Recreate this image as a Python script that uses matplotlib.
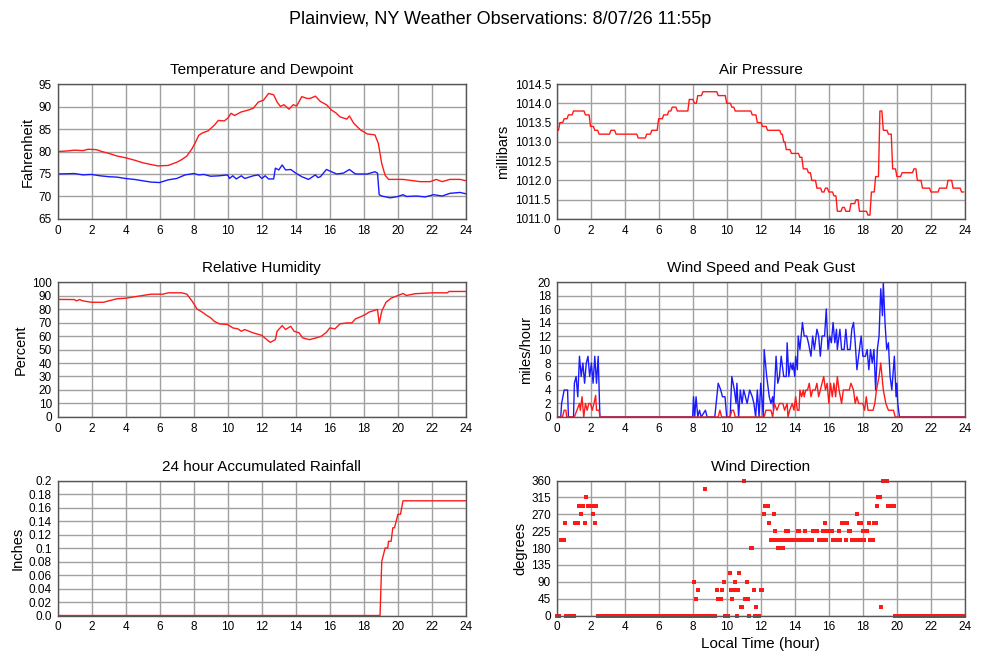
import numpy as np
import matplotlib
matplotlib.use('Agg')
import matplotlib.pyplot as plt

plt.rcParams['font.family'] = ['Liberation Sans', 'DejaVu Sans']

title = 'Plainview, NY Weather Observations: 8/07/26 11:55p'

# temperature / dewpoint (hour, degF)
temp_hr = [0, 0.5, 1, 1.5, 1.8, 2.3, 2.6, 3, 3.5, 4, 4.5, 5, 5.5, 5.9, 6.5,
           7, 7.3, 7.6, 7.9, 8.1, 8.3, 8.5, 8.85, 9.2, 9.45, 9.8, 10.0, 10.2,
           10.4, 10.8, 11.2, 11.5, 11.8, 12.1, 12.4, 12.7, 12.9, 13.1, 13.3,
           13.6, 13.85, 14.05, 14.35, 14.65, 14.85, 15.15, 15.45, 15.8, 16.1,
           16.35, 16.6, 17.0, 17.15, 17.4, 17.8, 18.2, 18.65, 18.85, 19.05,
           19.25, 19.45, 20.3, 21.3, 21.9, 22.25, 22.6, 23.05, 23.65, 24]
temp_f = [80.0, 80.1, 80.3, 80.2, 80.5, 80.4, 80.0, 79.6, 79.0, 78.6, 78.1,
          77.5, 77.1, 76.8, 76.9, 77.6, 78.2, 79.0, 80.6, 82.0, 83.6, 84.1,
          84.6, 85.8, 86.9, 86.8, 87.4, 88.5, 88.0, 88.8, 89.2, 89.6, 91.0,
          91.4, 92.9, 92.6, 91.0, 90.0, 90.4, 89.4, 90.4, 90.1, 92.2, 91.8,
          91.8, 92.3, 91.1, 90.4, 89.2, 88.6, 87.7, 87.2, 87.9, 86.3, 84.8,
          83.9, 83.7, 81.8, 77.3, 74.7, 73.8, 73.8, 73.3, 73.3, 73.8, 73.3,
          73.8, 73.8, 73.5]

dew_hr = [0, 1, 1.5, 2, 2.5, 3, 3.5, 4, 4.5, 5, 5.5, 6, 6.5, 7, 7.5, 8, 8.3,
          8.6, 9, 9.5, 10, 10.1, 10.3, 10.5, 10.8, 11, 11.5, 11.8, 12.0, 12.2,
          12.4, 12.7, 12.8, 13.0, 13.2, 13.4, 13.7, 14.0, 14.35, 14.75, 15.15,
          15.3, 15.45, 15.8, 16.1, 16.4, 16.8, 17.15, 17.5, 18.2, 18.65, 18.8,
          18.9, 19.05, 19.55, 20.0, 20.3, 20.5, 21.1, 21.6, 22.1, 22.6, 23.05,
          23.65, 24]
dew_f = [75.0, 75.1, 74.8, 74.9, 74.6, 74.4, 74.3, 74.0, 73.8, 73.5, 73.2,
         73.1, 73.7, 74.0, 74.8, 75.1, 74.8, 74.9, 74.5, 74.6, 74.8, 74.0,
         74.6, 73.9, 74.6, 74.0, 74.6, 74.8, 74.0, 74.6, 73.9, 73.9, 76.3,
         75.9, 77.0, 75.9, 76.0, 75.2, 74.4, 73.8, 74.8, 74.2, 74.4, 76.0,
         75.5, 75.0, 75.2, 76.0, 75.0, 75.0, 75.5, 75.2, 70.4, 70.1, 69.7,
         70.0, 70.4, 70.0, 70.1, 69.9, 70.4, 70.1, 70.7, 70.9, 70.6]

# air pressure, value held from each listed hour (hour, mb)
pres_hr = [0, 0.2, 0.45, 0.7, 1.0, 1.7, 2.0, 2.25, 2.5, 3.2, 3.5, 4.8, 5.3,
           5.6, 6.0, 6.3, 6.6, 6.8, 7.1, 7.8, 8.1, 8.3, 8.6, 9.5, 10.0, 10.3,
           10.5, 11.5, 11.8, 12.1, 12.4, 13.2, 13.35, 13.5, 13.8, 14.3, 14.5,
           14.8, 15.0, 15.3, 15.6, 15.8, 16.0, 16.3, 16.5, 16.8, 17.0, 17.3,
           17.6, 17.8, 18.3, 18.5, 18.75, 19.0, 19.2, 19.5, 19.75, 20.0,
           20.3, 21.0, 21.2, 21.5, 22.0, 22.5, 23.0, 23.3, 23.8, 24]
pres_mb = [1013.3, 1013.5, 1013.6, 1013.7, 1013.8, 1013.7, 1013.4, 1013.3,
           1013.2, 1013.3, 1013.2, 1013.1, 1013.2, 1013.3, 1013.6, 1013.7,
           1013.8, 1013.9, 1013.8, 1014.1, 1014.0, 1014.2, 1014.3, 1014.2,
           1014.0, 1013.9, 1013.8, 1013.7, 1013.5, 1013.4, 1013.3, 1013.2,
           1013.0, 1012.8, 1012.7, 1012.6, 1012.3, 1012.2, 1012.0, 1011.8,
           1011.7, 1011.8, 1011.7, 1011.6, 1011.2, 1011.3, 1011.2, 1011.4,
           1011.5, 1011.2, 1011.1, 1011.7, 1012.1, 1013.8, 1013.3, 1013.2,
           1012.3, 1012.1, 1012.2, 1012.3, 1012.0, 1011.8, 1011.7, 1011.8,
           1012.0, 1011.8, 1011.7, 1011.7]

# relative humidity (hour, %)
rh_hr = [0, 1, 1.1, 1.3, 1.5, 2, 2.7, 3, 3.5, 4, 4.5, 5, 5.5, 6.2, 6.5, 7.3,
         7.6, 7.9, 8.2, 8.5, 8.8, 9.0, 9.2, 9.5, 10, 10.3, 10.6, 10.8, 11.0,
         11.5, 12, 12.3, 12.5, 12.8, 12.9, 13.2, 13.4, 13.7, 13.9, 14.2, 14.4,
         14.8, 15.2, 15.5, 15.8, 16, 16.3, 16.6, 17, 17.3, 17.5, 17.8, 18.1,
         18.3, 18.8, 18.9, 19.05, 19.3, 19.6, 20, 20.3, 20.5, 21, 22, 22.9, 23,
         24]
rh_pct = [87.1, 87, 86, 87, 86, 85, 85, 86, 87.6, 88, 89, 90, 91, 91, 92, 92,
          91, 86, 80, 77.7, 75, 73.5, 71, 69, 68.5, 66, 65.3, 63.5, 64.8,
          62.3, 60.5, 57.3, 55.3, 57.3, 63.5, 67.7, 64.8, 67.2, 63.5, 62.3,
          58.6, 57.3, 58.6, 59.8, 62.8, 66, 65.3, 69, 69.7, 69.7, 72.7, 74.2,
          76, 77.7, 79.7, 69.2, 78.4, 85, 88, 90, 91.5, 90, 91.3, 92, 92, 93,
          93]

# wind gust (blue) and speed (red), mph
gust_hr = [0, 0.25, 0.3, 0.45, 0.65, 0.7, 1.0, 1.05, 1.15, 1.25, 1.35, 1.45,
           1.55, 1.65, 1.75, 1.85, 1.95, 2.05, 2.15, 2.25, 2.35, 2.45, 2.55,
           8.0, 8.05, 8.12, 8.2, 8.3, 8.4, 8.5, 8.75, 8.85, 9.3, 9.5, 9.65,
           9.75, 9.9, 10.0, 10.2, 10.3, 10.45, 10.55, 10.6, 10.7, 10.8, 10.9,
           11.0, 11.1, 11.2, 11.35, 11.5, 11.6, 11.7, 11.8, 11.9, 12.0, 12.15,
           12.2, 12.35, 12.5, 12.6, 12.7, 12.75, 12.9, 13.0, 13.1, 13.2, 13.35,
           13.5, 13.55, 13.65, 13.75, 13.85, 13.9, 14.0, 14.05, 14.15, 14.2,
           14.3, 14.45, 14.55, 14.7, 14.8, 14.95, 15.05, 15.15, 15.3, 15.4,
           15.5, 15.6, 15.75, 15.85, 15.95, 16.05, 16.15, 16.25, 16.35, 16.45,
           16.5, 16.65, 16.75, 16.9, 17.0, 17.1, 17.25, 17.35, 17.45, 17.55,
           17.65, 17.75, 17.9, 18.0, 18.15, 18.25, 18.35, 18.45, 18.55, 18.65,
           18.75, 18.85, 18.95, 19.05, 19.15, 19.2, 19.3, 19.4, 19.5, 19.6,
           19.7, 19.85, 19.95, 20.0, 20.05, 20.15, 24]
gust_mph = [0, 0, 2, 4, 4, 0, 0, 5, 6, 3, 9, 6, 8, 5, 8, 9, 6, 8, 5, 9, 5, 9,
            0, 0, 3, 0, 3, 0, 1, 0, 1, 0, 0, 5, 4, 3, 3, 0, 0, 6, 4, 2, 5, 0,
            4, 2, 4, 3, 2, 4, 3, 2, 0, 4, 0, 5, 0, 10, 6, 3, 2, 3, 1, 9, 5, 6,
            9, 6, 6, 11, 6, 8, 7, 8, 6, 9, 7, 12, 10, 14, 12, 12, 11, 9, 12,
            10, 13, 12, 9, 12, 12, 16, 10, 12, 11, 14, 11, 13, 10, 13, 10, 10,
            13, 10, 10, 13, 14, 11, 7, 9, 12, 9, 9, 10, 7, 10, 8, 10, 4, 10,
            12, 19, 15, 20, 14, 10, 11, 6, 4, 9, 3, 5, 2, 0, 0]

speed_hr = [0, 0.35, 0.45, 0.55, 0.6, 1.05, 1.2, 1.35, 1.4, 1.5, 1.6, 1.7,
            1.8, 1.9, 2.0, 2.1, 2.2, 2.3, 2.35, 2.5, 2.55, 9.5, 9.6, 9.7,
            10.2, 10.3, 10.4, 10.5, 12.2, 12.3, 12.6, 12.7, 12.8, 12.95, 13.1,
            13.3, 13.4, 13.55, 13.6, 13.7, 13.85, 13.95, 14.05, 14.15, 14.25,
            14.3, 14.4, 14.5, 14.55, 14.65, 14.75, 14.85, 14.95, 15.05, 15.2,
            15.3, 15.4, 15.5, 15.6, 15.7, 15.8, 15.9, 16.0, 16.1, 16.2, 16.3,
            16.4, 16.5, 16.6, 16.75, 16.85, 17.0, 17.2, 17.3, 17.45, 17.55,
            17.65, 17.75, 18.0, 18.1, 18.2, 18.3, 18.6, 18.7, 18.8, 18.95,
            19.05, 19.2, 19.35, 19.5, 19.8, 19.9, 24]
speed_mph = [0, 0, 1, 1, 0, 0, 1, 2, 1, 3, 0, 2, 1, 2, 2, 1, 2, 3.2, 1, 1, 0,
             0, 1, 0, 0, 1, 1, 0, 0, 1, 1, 0, 2, 1, 2, 2, 1, 2, 0, 1, 2, 1, 3,
             1, 1, 4, 3, 4, 3, 4, 4, 5, 3, 4, 4, 5, 3, 4, 5, 6, 4, 5, 2, 5, 3,
             5, 3, 6, 4, 2, 4, 4, 4, 5, 4, 2, 3, 2, 2, 1, 3, 1, 1, 2, 4, 6, 8,
             4, 2, 1, 1, 0, 0]

# rainfall accumulation (hour, inches)
rain_hr = [0, 18.95, 19.05, 19.15, 19.25, 19.4, 19.45, 19.6, 19.7, 19.8, 19.9,
           20.0, 20.15, 20.3, 24]
rain_in = [0, 0, 0.08, 0.09, 0.10, 0.10, 0.11, 0.11, 0.13, 0.13, 0.14, 0.15,
           0.15, 0.17, 0.17]

# wind direction every 5 minutes, as (degrees, number of readings)
dir_runs = [(0, 3), (202.5, 3), (247.5, 1), (0, 6), (247.5, 3), (292.5, 1),
            (270, 1), (292.5, 2), (247.5, 1), (315, 1), (292.5, 4), (270, 1),
            (247.5, 1), (292.5, 1), (0, 68), (90, 1), (45, 1), (0, 1),
            (67.5, 1), (0, 4), (337.5, 1), (0, 7), (67.5, 1), (45, 3),
            (67.5, 1), (90, 1), (0, 3), (112.5, 1), (67.5, 1), (45, 1),
            (67.5, 1), (90, 1), (0, 1), (67.5, 1), (112.5, 1), (22.5, 2),
            (360, 1), (45, 1), (90, 1), (45, 1), (0, 1), (180, 2), (67.5, 1),
            (0, 1), (22.5, 1), (0, 2), (67.5, 2), (270, 1), (292.5, 3),
            (247.5, 1), (202.5, 2), (270, 1), (225, 1), (202.5, 1), (180, 1),
            (202.5, 1), (180, 1), (202.5, 1), (180, 1), (202.5, 1), (225, 2),
            (202.5, 6), (225, 2), (202.5, 3), (225, 1), (202.5, 5), (225, 4),
            (202.5, 3), (225, 1), (247.5, 1), (202.5, 1), (225, 4), (202.5, 4),
            (225, 1), (202.5, 1), (247.5, 3), (202.5, 1), (247.5, 1), (225, 2),
            (202.5, 4), (270, 1), (247.5, 1), (202.5, 1), (247.5, 1), (225, 1),
            (202.5, 1), (225, 2), (247.5, 1), (202.5, 3), (247.5, 2),
            (292.5, 1), (315, 2), (22.5, 1), (360, 4), (292.5, 5), (0, 49)]

dir_deg = np.repeat([r[0] for r in dir_runs], [r[1] for r in dir_runs])
dir_hr = np.arange(len(dir_deg)) * 5 / 60.0

# pressure readings change over one 5-minute sample, so hold each value
# until one sample before the next change
step = 5 / 60.0
px, py = [], []
for i in range(len(pres_hr) - 1):
    px += [pres_hr[i], max(pres_hr[i], pres_hr[i + 1] - step)]
    py += [pres_mb[i], pres_mb[i]]

RED = '#ff1a1a'
BLUE = '#1a1aff'
GRID = '#a0a0a0'

fig = plt.figure(figsize=(10, 6.6), dpi=100)
fig.text(0.5, 1 - 20 / 660, title, ha='center', va='center', fontsize=13)

lefts = [0.0575, 0.5565]
bottoms = [0.6682, 0.3682, 0.0674]
w, h = 0.4085, 0.2045


def make_ax(row, col, ttl, ylab):
    ax = fig.add_axes([lefts[col], bottoms[row], w, h])
    ax.set_title(ttl, fontsize=11, pad=7)
    ax.set_ylabel(ylab, fontsize=10.5, labelpad=3)
    ax.set_xlim(0, 24)
    ax.set_xticks(range(0, 25, 2))
    ax.grid(True, color=GRID, lw=1)
    ax.set_axisbelow(True)
    ax.tick_params(length=0, labelsize=8.5, pad=4)
    for s in ax.spines.values():
        s.set_color('#555555')
        s.set_linewidth(1)
    return ax


ax = make_ax(0, 0, 'Temperature and Dewpoint', 'Fahrenheit')
ax.plot(temp_hr, temp_f, color=RED, lw=1)
ax.plot(dew_hr, dew_f, color=BLUE, lw=1)
ax.set_ylim(65, 95)
ax.set_yticks(range(65, 96, 5))

ax = make_ax(0, 1, 'Air Pressure', 'millibars')
ax.plot(px, py, color=RED, lw=1)
ax.set_ylim(1011, 1014.5)
yt = np.arange(1011, 1014.51, 0.5)
ax.set_yticks(yt)
ax.set_yticklabels(['%.1f' % v for v in yt])

ax = make_ax(1, 0, 'Relative Humidity', 'Percent')
ax.plot(rh_hr, rh_pct, color=RED, lw=1)
ax.set_ylim(0, 100)
ax.set_yticks(range(0, 101, 10))

ax = make_ax(1, 1, 'Wind Speed and Peak Gust', 'miles/hour')
ax.plot(gust_hr, gust_mph, color=BLUE, lw=1)
ax.plot(speed_hr, speed_mph, color=RED, lw=1)
ax.set_ylim(0, 20)
ax.set_yticks(range(0, 21, 2))

ax = make_ax(2, 0, '24 hour Accumulated Rainfall', 'Inches')
ax.plot(rain_hr, rain_in, color=RED, lw=1)
ax.set_ylim(0, 0.2)
ax.set_yticks(np.arange(0, 0.201, 0.02))
ax.set_yticklabels(['0.0', '0.02', '0.04', '0.06', '0.08', '0.1', '0.12',
                    '0.14', '0.16', '0.18', '0.2'])

ax = make_ax(2, 1, 'Wind Direction', 'degrees')
ax.plot(dir_hr, dir_deg, ls='none', marker='s', ms=2.4, mew=0, color=RED,
        clip_on=False)
ax.set_ylim(0, 360)
ax.set_yticks(range(0, 361, 45))
ax.set_xlabel('Local Time (hour)', fontsize=11, labelpad=3)

fig.savefig('out.png', dpi=100)
